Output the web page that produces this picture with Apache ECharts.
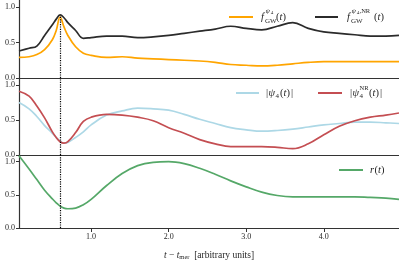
<!DOCTYPE html>
<html><head><meta charset="utf-8">
<script src="https://cdn.jsdelivr.net/npm/echarts@6/dist/echarts.min.js"></script>
<style>html,body{margin:0;padding:0;background:#fff}#c{width:399px;height:262px}</style>
</head><body><div id="c"></div>
<script>
// time axis t - t_mer (arbitrary units)
const t = [0.07,0.2,0.3,0.4,0.5,0.55,0.6,0.65,0.7,0.8,0.9,1.0,1.2,1.4,1.6,1.8,2.0,2.2,2.4,2.6,2.8,3.0,3.2,3.4,3.6,3.8,4.0,4.2,4.4,4.6,4.8,4.97];
// panel 1
const fgwPsi4 = [0.29,0.30,0.33,0.40,0.54,0.67,0.86,0.72,0.60,0.44,0.35,0.32,0.29,0.30,0.28,0.27,0.26,0.25,0.24,0.22,0.19,0.18,0.17,0.18,0.20,0.22,0.23,0.23,0.23,0.23,0.23,0.23];
const fgwNR   = [0.38,0.42,0.45,0.60,0.75,0.83,0.89,0.85,0.78,0.67,0.56,0.57,0.59,0.59,0.57,0.58,0.60,0.63,0.66,0.69,0.73,0.70,0.68,0.73,0.78,0.70,0.65,0.63,0.61,0.59,0.59,0.60];
// panel 2
const absPsi4   = [0.75,0.66,0.55,0.42,0.31,0.25,0.20,0.17,0.18,0.25,0.33,0.43,0.57,0.63,0.67,0.66,0.64,0.58,0.51,0.45,0.39,0.36,0.34,0.35,0.37,0.40,0.43,0.45,0.47,0.47,0.46,0.45];
const absPsi4NR = [0.91,0.84,0.70,0.53,0.33,0.25,0.19,0.17,0.19,0.32,0.48,0.54,0.58,0.57,0.54,0.49,0.39,0.31,0.22,0.16,0.12,0.12,0.12,0.11,0.09,0.16,0.29,0.41,0.49,0.54,0.57,0.60];
// panel 3
const rRatio = [1.09,0.89,0.73,0.57,0.44,0.38,0.33,0.30,0.29,0.30,0.35,0.43,0.64,0.82,0.94,0.99,1.00,0.97,0.90,0.81,0.71,0.62,0.54,0.49,0.47,0.47,0.47,0.47,0.47,0.46,0.45,0.43];
const xTicks = [1,2,3,4];
const yTicks = [0,0.5,1.0];
const tMerger = 0.6;

const FONT = '"Liberation Serif", "DejaVu Serif", serif';
const INK = '#262626';
const C = {orange:'#FFA500', black:'#2b2b2b', blue:'#ADD8E6', red:'#C44E52', green:'#55A868'};

const zip = (a) => t.map((x,i) => [x, a[i]]);

const grids = [
  {left:19, right:0, top:0, height:78},
  {left:19, right:0, top:78, height:77},
  {left:19, right:0, top:155, height:77}
];
const xAxes = grids.map((g,i) => ({
  type:'value', gridIndex:i, min:0.07, max:4.97,
  axisLine:{show:true, onZero:false, lineStyle:{color:'#333', width:1.2}},
  axisTick:{show:i===2, customValues:xTicks, length:4, lineStyle:{color:'#333'}},
  axisLabel:{show:i===2, customValues:xTicks, formatter:v=>v.toFixed(1), fontFamily:FONT, fontSize:8, color:INK, margin:5},
  splitLine:{show:false},
  name: i===2 ? '{i|t} − {i|t}{s|mer}  [arbitrary units]' : '',
  nameLocation:'middle', nameGap:21,
  nameTextStyle:{fontFamily:FONT, fontSize:9.5, color:INK,
    rich:{i:{fontFamily:FONT, fontSize:9.5, fontStyle:'italic', color:INK}, s:{fontFamily:FONT, fontSize:6.5, color:INK, padding:[5,0,0,0]}}}
}));
const yAxes = grids.map((g,i) => ({
  type:'value', gridIndex:i, min:0, max:1.1,
  axisLine:{show:true, onZero:false, lineStyle:{color:'#333', width:1.2}},
  axisTick:{show:true, customValues:yTicks, length:3, lineStyle:{color:'#333'}},
  axisLabel:{customValues:yTicks, formatter:v=>v.toFixed(1), fontFamily:FONT, fontSize:8, color:INK, margin:4},
  splitLine:{show:false}
}));

function mk(name, data, color, gi, markTop) {
  const s = {name, type:'line', xAxisIndex:gi, yAxisIndex:gi, data:zip(data), showSymbol:false, smooth:0.4,
    lineStyle:{color, width:1.7}, itemStyle:{color}, z:3};
  if (markTop !== undefined) {
    s.markLine = {silent:true, symbol:['none','none'], label:{show:false},
      lineStyle:{color:'#000', type:'dotted', width:1.2},
      data:[[{coord:[tMerger,0]},{coord:[tMerger,markTop]}]]};
  }
  return s;
}

const series = [
  mk('fgwPsi4', fgwPsi4, C.orange, 0),
  mk('fgwNR', fgwNR, C.black, 0, 0.87),
  mk('absPsi4', absPsi4, C.blue, 1),
  mk('absPsi4NR', absPsi4NR, C.red, 1, 1.1),
  mk('r', rRatio, C.green, 2, 1.1)
];

function tx(x, y, text, size, italic) {
  return {type:'text', x, y, z:10, style:{text, fill:INK,
    font:(italic?'italic ':'') + size + 'px ' + FONT, textVerticalAlign:'middle', verticalAlign:'middle'}};
}
function pt(x, y, size) {
  return {type:'text', x, y, z:10, style:{text:'{n|(}{i|t}{n|)}', verticalAlign:'middle', textVerticalAlign:'middle',
    rich:{n:{fontFamily:FONT, fontSize:size, fill:INK, color:INK}, i:{fontFamily:FONT, fontSize:size, fontStyle:'italic', fill:INK, color:INK}}}};
}
function ln(x1, x2, y, color) {
  return {type:'line', z:10, shape:{x1, y1:y, x2, y2:y}, style:{stroke:color, lineWidth:2}};
}
const LS = 10.5;
const graphic = [
  // legend panel 1
  ln(229, 253, 17, C.orange),
  tx(261, 17, 'f', LS, true), tx(265.5, 11.5, 'ψ', 7, true), tx(270.8, 12.8, '4', 5), tx(265, 21.5, 'GW', 7), pt(276, 17, LS),
  ln(315, 338, 17, C.black),
  tx(347, 17, 'f', LS, true), tx(351.5, 11.5, 'ψ', 7, true), tx(356.8, 12.8, '4', 5), tx(359.5, 11.3, ',NR', 6.5), tx(351, 21.5, 'GW', 7), pt(374, 17, LS),
  // legend panel 2
  ln(236, 259, 93, C.blue),
  tx(266, 93, '|', LS), tx(268.5, 93, 'ψ', LS, true), tx(275.5, 96.5, '4', 7), pt(280, 93, LS), tx(291, 93, '|', LS),
  ln(318, 342, 93, C.red),
  tx(350, 93, '|', LS), tx(352.5, 93, 'ψ', LS, true), tx(359.5, 96.5, '4', 7), tx(359.5, 88.5, 'NR', 6.5), pt(369, 93, LS), tx(380, 93, '|', LS),
  // legend panel 3
  ln(339, 363, 170, C.green),
  tx(370, 170, 'r', LS, true), pt(374.5, 170, LS)
];

const chart = echarts.init(document.getElementById('c'), null, {renderer:'canvas'});
chart.setOption({
  animation:false, backgroundColor:'#fff',
  grid:grids, xAxis:xAxes, yAxis:yAxes, series, graphic
});
</script></body></html>
